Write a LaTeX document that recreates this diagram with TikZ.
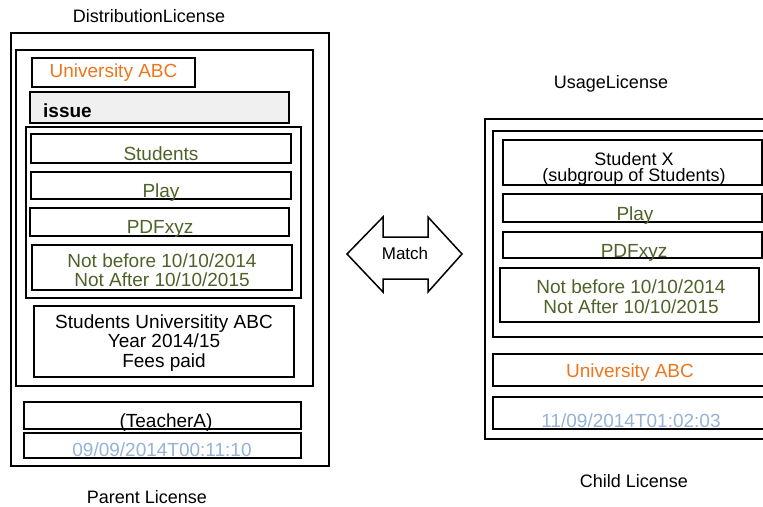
\documentclass[tikz,border=0pt]{standalone}
\usepackage{fontspec}
\setmainfont{Liberation Sans}
\definecolor{uniorange}{RGB}{238,118,28}
\definecolor{rightgreen}{RGB}{79,98,40}
\definecolor{stampblue}{RGB}{149,179,215}
\definecolor{issuefill}{RGB}{240,240,240}
\tikzset{
  frame/.style={draw=black, line width=1.6pt, inner sep=0pt, outer sep=0pt, anchor=north west},
  label/.style={anchor=base, inner sep=0pt, font=\fontsize{19}{19}\selectfont},
  caption/.style={label, font=\fontsize{18}{18}\selectfont},
}
% \licbox{name}{x1}{y1}{x2}{y2}{extra style}
\newcommand{\licbox}[6]{%
  \node[frame, #6, minimum width={(#4-#2)*1pt}, minimum height={(#5-#3)*1pt}] (#1) at (#2,#3) {};}
\begin{document}
\begin{tikzpicture}[x=1pt, y=-1pt]
\clip (0,0) rectangle (763,506);
\fill[white] (0,0) rectangle (763,506);

% ---------- parent (distribution) licence ----------
\node[caption] (distTitle) at (149,23) {DistributionLicense};
\licbox{distOuter}{11}{33}{329}{466}{}
\licbox{distInner}{16}{50}{313}{386}{}
\licbox{distUni}{32}{58}{195}{87}{}
\node[label, text=uniorange] (distUniT) at (113.5,77) {University ABC};
\licbox{distIssue}{30}{92}{289}{123}{fill=issuefill}
\node[label, anchor=base west, font=\bfseries\fontsize{19}{19}\selectfont] (distIssueT) at (43,117) {issue};
\licbox{distGrant}{26}{127}{301}{298}{}
\licbox{distWho}{31}{134}{291}{163}{}
\node[label, text=rightgreen] (distWhoT) at (161,160) {Students};
\licbox{distAct}{31}{172}{291}{199}{}
\node[label, text=rightgreen] (distActT) at (161,197) {Play};
\licbox{distRes}{30}{208}{289}{236}{}
\node[label, text=rightgreen] (distResT) at (160,233) {PDFxyz};
\licbox{distTime}{32}{245}{292}{290}{}
\node[label, text=rightgreen] (distTimeA) at (162,267) {Not before 10/10/2014};
\node[label, text=rightgreen] (distTimeB) at (162,286) {Not After 10/10/2015};
\licbox{distCond}{34}{306}{294}{377}{}
\node[label] (distCondA) at (164,328) {Students Universitity ABC};
\node[label] (distCondB) at (164,347) {Year 2014/15};
\node[label] (distCondC) at (164,367) {Fees paid};
\licbox{distSigner}{24}{402}{301}{429}{}
\node[label] (distSignerT) at (166,427) {(TeacherA)};
\licbox{distStamp}{24}{433}{301}{458}{}
\node[label, text=stampblue] (distStampT) at (162,456) {09/09/2014T00:11:10};
\node[caption] (parentCap) at (147,503) {Parent License};

% ---------- match arrow ----------
\draw[line width=1.5pt, line join=miter, fill=white]
  (347,254) -- (383,217) -- (383,237) -- (428,237) -- (428,217) -- (462,254)
  -- (428,292) -- (428,279) -- (383,279) -- (383,292) -- cycle;
\node[label, font=\fontsize{17}{17}\selectfont] (match) at (405,259) {Match};

% ---------- child (usage) licence ----------
\node[caption] (usageTitle) at (611,88) {UsageLicense};
\licbox{useOuter}{485}{119}{790}{439}{}
\licbox{useInner}{493}{131}{790}{337}{}
\licbox{useWho}{503}{140}{762}{185}{}
\node[label, font=\fontsize{18}{18}\selectfont] (useWhoA) at (634,165) {Student X};
\node[label, font=\fontsize{18}{18}\selectfont] (useWhoB) at (634,181) {(subgroup of Students)};
\licbox{useAct}{503}{194}{762}{222}{}
\node[label, text=rightgreen] (useActT) at (635,220) {Play};
\licbox{useRes}{503}{232}{762}{258}{}
\node[label, text=rightgreen] (useResT) at (634,257) {PDFxyz};
\licbox{useTime}{500}{268}{759}{322}{}
\node[label, text=rightgreen] (useTimeA) at (631,293) {Not before 10/10/2014};
\node[label, text=rightgreen] (useTimeB) at (631,313) {Not After 10/10/2015};
\licbox{useUni}{493}{354}{790}{386}{}
\node[label, text=uniorange] (useUniT) at (630,377) {University ABC};
\licbox{useStamp}{493}{397}{790}{429}{}
\node[label, text=stampblue] (useStampT) at (631,427) {11/09/2014T01:02:03};
\node[caption] (childCap) at (634,487) {Child License};
\end{tikzpicture}
\end{document}
